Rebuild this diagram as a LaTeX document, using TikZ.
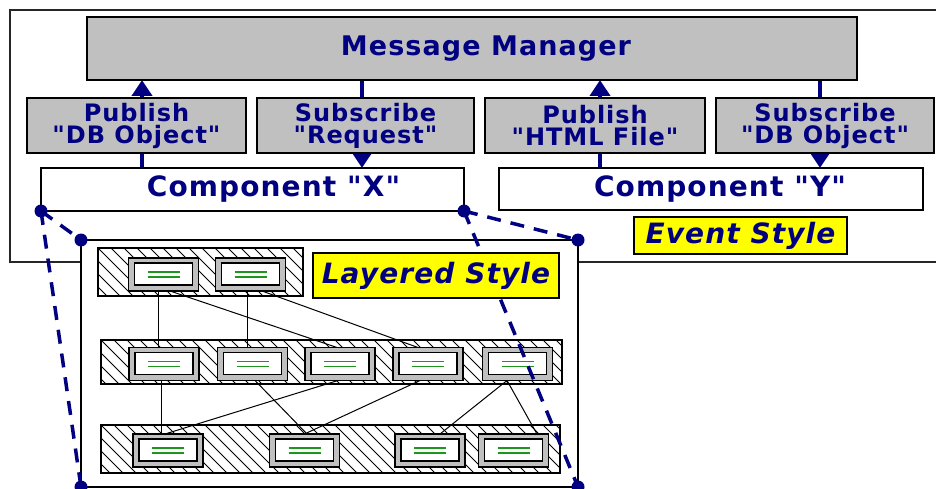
\documentclass[tikz,border=0pt]{standalone}
\usepackage{fontspec}
\setmainfont{DejaVu Sans}[LetterSpace=4, Ligatures=TeXOff]
\usetikzlibrary{arrows.meta,calc}

\definecolor{navy}{RGB}{0,0,128}
\definecolor{panel}{RGB}{192,192,192}
\definecolor{codegreen}{RGB}{30,150,30}
\definecolor{tagyellow}{RGB}{255,255,0}

\pgfdeclarelayer{back}
\pgfsetlayers{back,main}

\newcommand{\mmfont}{\fontsize{27}{27}\selectfont\bfseries}
\newcommand{\busfont}{\fontsize{24}{22}\selectfont\bfseries}
\newcommand{\compfont}{\fontsize{28}{28}\selectfont\bfseries}
\newcommand{\tagfont}{\fontsize{28}{28}\selectfont\bfseries\itshape}

\begin{document}
\begin{tikzpicture}[x=1pt,y=-1pt,
  box/.style={draw=black, line width=1.6pt, inner sep=0pt, outer sep=0pt, text=navy},
  greybox/.style={box, fill=panel},
  whitebox/.style={box, fill=white},
  bus/.style={greybox, minimum height=55pt, align=center, font=\busfont},
  comp/.style={whitebox, minimum height=43pt, font=\compfont},
  tag/.style={box, fill=tagyellow, font=\tagfont},
  layer/.style={draw=black, line width=1.2pt, inner sep=0pt, outer sep=0pt, fill=white,
    path picture={
      \foreach \i in {-5,...,40}
        \draw[black, line width=0.9pt]
          ([xshift=\i*13pt]path picture bounding box.north west) -- ++(60pt,-60pt);
    }},
  module/.style={draw=black, line width=1.2pt, fill=panel, inner sep=0pt, outer sep=0pt,
    minimum width=70pt, minimum height=33pt,
    path picture={
      \draw[black, line width=1.8pt, fill=white]
        ([xshift=6pt,yshift=-5pt]path picture bounding box.north west) rectangle
        ([xshift=-6pt,yshift=6pt]path picture bounding box.south east);
      \draw[codegreen, line width=1.3pt]
        ([xshift=-16pt,yshift=2.5pt]path picture bounding box.center) -- ++(32pt,0pt)
        ([xshift=-16pt,yshift=-2.5pt]path picture bounding box.center) -- ++(32pt,0pt);
    }},
  conn/.style={navy, line width=4.5pt, -{Triangle[length=16pt,width=20pt]}},
  link/.style={black, line width=1pt},
  zoomline/.style={navy, line width=3.5pt, dash pattern=on 14pt off 10pt},
  knob/.style={circle, fill=navy, minimum size=13pt, inner sep=0pt}
]
\useasboundingbox (0,0) rectangle (936,489);

% outer frame of the event-style system
\draw[line width=1.5pt, black!85] (936,10) -- (10,10) -- (10,262) -- (936,262);

% message bus and its clients
\node[greybox, minimum width=770pt, minimum height=63pt, font=\mmfont] (mm) at (472,48.5) {\hspace*{28pt}Message Manager};
\node[bus, minimum width=219pt] (pubdb) at (136.5,125.5) {Publish\\"DB Object"};
\node[bus, minimum width=217pt] (subreq) at (365.5,125.5) {Subscribe\\"Request"};
\node[bus, minimum width=220pt] (pubhtml) at (595,125.5) {Publish\\"HTML File"};
\node[bus, minimum width=218pt] (subdb) at (825,125.5) {Subscribe\\"DB Object"};
\node[comp, minimum width=423pt] (compx) at (252.5,189.5) {\hspace*{42pt}Component "X"};
\node[comp, minimum width=424pt, minimum height=42pt] (compy) at (711,189) {\hspace*{18pt}Component "Y"};
\node[tag, minimum width=213pt, minimum height=37pt] (event) at (740.5,235.5) {Event Style};

% publish / subscribe connectors, passing behind the grey boxes
\begin{pgfonlayer}{back}
  \draw[conn] ($(compx.north -| pubdb.center)+(5.5,0)$) -- ($(mm.south -| pubdb.center)+(5.5,0)$);
  \draw[conn] ($(mm.south -| subreq.center)+(-3.5,0)$) -- ($(compx.north -| subreq.center)+(-3.5,0)$);
  \draw[conn] ($(compy.north -| pubhtml.center)+(5,0)$) -- ($(mm.south -| pubhtml.center)+(5,0)$);
  \draw[conn] ($(mm.south -| subdb.center)+(-5,0)$) -- ($(compy.north -| subdb.center)+(-5,0)$);
\end{pgfonlayer}

% layered view of component X
\node[draw=black, line width=1.5pt, fill=white, inner sep=0pt, outer sep=0pt,
      minimum width=497pt, minimum height=247pt] (inner) at (329.5,363.5) {};

\node[layer, minimum width=205pt, minimum height=48pt] (lay1) at (200.5,272) {};
\node[layer, minimum width=461pt, minimum height=44pt] (lay2) at (331.5,362) {};
\node[layer, minimum width=459pt, minimum height=48pt] (lay3) at (330.5,449) {};

\node[module] (a1) at (163.5,274.5) {};
\node[module] (a2) at (250.5,274.5) {};

\node[module] (b1) at (164,364) {};
\node[module] (b2) at (252.5,364) {};
\node[module] (b3) at (340,364) {};
\node[module] (b4) at (428,364) {};
\node[module] (b5) at (517.5,364) {};

\node[module] (c1) at (168,450.5) {};
\node[module] (c2) at (304.5,450.5) {};
\node[module] (c3) at (430,450.5) {};
\node[module] (c4) at (513.5,450.5) {};

% dependencies between layers
\draw[link] ([xshift=-5.5pt]a1.south) -- ([xshift=-6pt]b1.north);
\draw[link] ([xshift=-3.5pt]a2.south) -- ([xshift=-5.5pt]b2.north);
\draw[link] ([xshift=6.5pt]a1.south) -- ([xshift=-3pt]b3.north);
\draw[link] ([xshift=11.5pt]a2.south) -- ([xshift=-10pt]b4.north);
\draw[link] ([xshift=-3pt]b1.south) -- ([xshift=-7pt]c1.north);
\draw[link] ([xshift=2.5pt]b2.south) -- ([xshift=2.5pt]c2.north);
\draw[link] ([xshift=-2pt]b3.south) -- ([xshift=-3pt]c1.north);
\draw[link] ([xshift=-8pt]b4.south) -- (c2.north);
\draw[link] ([xshift=-10.5pt]b5.south) -- ([xshift=10pt]c3.north);
\draw[link] ([xshift=-10.5pt]b5.south) -- ([xshift=23.5pt]c4.north);

% zoom lines from component X to its layered view
\draw[zoomline] (compx.south west) -- (inner.north west);
\draw[zoomline] (compx.south west) -- (inner.south west);
\draw[zoomline] (compx.south east) -- (inner.north east);
\draw[zoomline] (compx.south east) -- (inner.south east);
\node[knob] (k1) at (compx.south west) {};
\node[knob] (k2) at (compx.south east) {};
\node[knob] (k3) at (inner.north west) {};
\node[knob] (k4) at (inner.south west) {};
\node[knob] (k5) at (inner.north east) {};
\node[knob] (k6) at (inner.south east) {};

\node[tag, minimum width=246pt, minimum height=45pt] (layered) at (436,275.5) {Layered Style};
\end{tikzpicture}
\end{document}
